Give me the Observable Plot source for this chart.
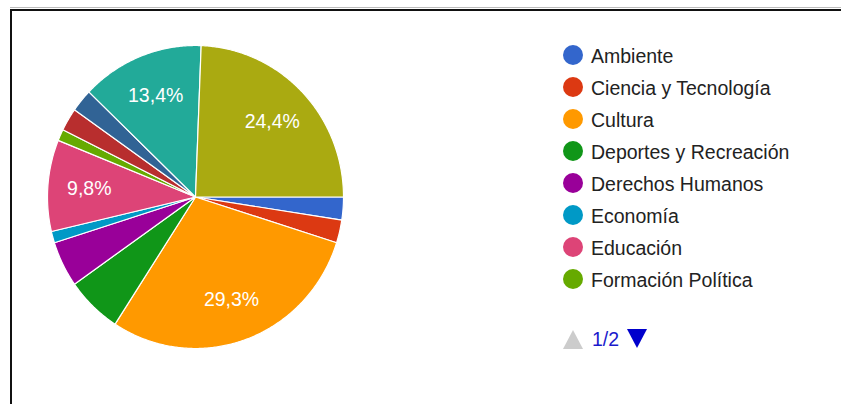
<!DOCTYPE html>
<html>
<head>
<meta charset="utf-8">
<script src="https://cdn.jsdelivr.net/npm/d3@7"></script>
<script src="https://cdn.jsdelivr.net/npm/@observablehq/plot@0.6"></script>
<style>
  html, body { margin: 0; padding: 0; background: #fff; }
  body { width: 841px; height: 404px; position: relative; overflow: hidden;
         font-family: "Liberation Sans", Arial, sans-serif; }
  #frameGray { position: absolute; left: 10px; top: 7px; width: 831px; height: 1px; background: #bbb; }
  #frame { position: absolute; left: 10px; top: 9px; width: 831px; height: 400px;
           border-top: 2px solid #111; border-left: 2px solid #111; box-sizing: border-box; }
  #chart { position: absolute; left: 0; top: 0; }
  #legend { position: absolute; left: 562px; top: 39px; }
  .row { position: relative; height: 32px; }
  .sw { position: absolute; left: 1px; top: 6px; width: 20px; height: 20px; border-radius: 50%; }
  .lab { position: absolute; left: 29px; top: 4.5px; font-size: 19.5px; color: #222; white-space: nowrap; line-height: 24px; }
  #pager { position: absolute; left: 562px; top: 328px; height: 22px; }
  .tri-up { position: absolute; left: 1px; top: 2px; width: 0; height: 0;
            border-left: 10px solid transparent; border-right: 10px solid transparent; border-bottom: 19px solid #ccc; }
  .tri-down { position: absolute; left: 65px; top: 1px; width: 0; height: 0;
            border-left: 10px solid transparent; border-right: 10px solid transparent; border-top: 19px solid #0000cc; }
  .page { position: absolute; left: 30px; top: -1px; font-size: 19.5px; color: #1a1acc; line-height: 24px; }
</style>
</head>
<body>
<div id="frameGray"></div>
<div id="frame"></div>
<div id="chart"></div>
<div id="legend"></div>
<div id="pager"><div class="tri-up"></div><div class="page">1/2</div><div class="tri-down"></div></div>
<script>
// ---- data ----
const categories = [
  "Ambiente", "Ciencia y Tecnología", "Cultura", "Deportes y Recreación",
  "Derechos Humanos", "Economía", "Educación", "Formación Política",
  "Género", "Juventud", "Salud", "Social y Comunitario"
];
const counts = [2, 2, 24, 5, 4, 1, 8, 1, 2, 2, 11, 20];
const colors = [
  "#3366cc", "#dc3912", "#ff9900", "#109618", "#990099", "#0099c6",
  "#dd4477", "#66aa00", "#b82e2e", "#316395", "#22aa99", "#aaaa11"
];
const legendPage1 = categories.slice(0, 8);
const startAngleDeg = 90; // first slice starts at 3 o'clock, clockwise

// ---- derived geometry (from data) ----
const total = d3.sum(counts);
const slices = [];
let acc = startAngleDeg * Math.PI / 180;
categories.forEach((name, i) => {
  const a0 = acc, a1 = acc + counts[i] / total * 2 * Math.PI;
  acc = a1;
  slices.push({name, value: counts[i], a0, a1});
});
const pts = [];
for (const s of slices) {
  pts.push({name: s.name, x: 0, y: 0});
  const n = Math.max(2, Math.ceil((s.a1 - s.a0) / (Math.PI / 360)));
  for (let k = 0; k <= n; k++) {
    const a = s.a0 + (s.a1 - s.a0) * k / n;
    pts.push({name: s.name, x: Math.sin(a), y: Math.cos(a)});
  }
}
const labels = slices.filter(s => s.value / total > 0.09).map(s => {
  const m = (s.a0 + s.a1) / 2;
  return {name: s.name, x: 0.72 * Math.sin(m), y: 0.72 * Math.cos(m),
          text: (s.value / total * 100).toFixed(1).replace(".", ",") + "%"};
});

const plot = Plot.plot({
  width: 841, height: 404,
  marginLeft: 47, marginRight: 498, marginTop: 45, marginBottom: 56,
  x: {domain: [-1, 1], axis: null},
  y: {domain: [-1, 1], axis: null},
  color: {domain: categories, range: colors},
  style: {fontFamily: "'Liberation Sans', Arial, sans-serif", background: "transparent"},
  marks: [
    Plot.line(pts, {x: "x", y: "y", z: "name", fill: "name", stroke: "white",
                    strokeWidth: 1.2, curve: "linear-closed", strokeLinejoin: "round"}),
    Plot.text(labels, {x: "x", y: "y", text: "text", fill: "white", fontSize: 19.5})
  ]
});
document.getElementById("chart").appendChild(plot);

const leg = document.getElementById("legend");
legendPage1.forEach((name) => {
  const i = categories.indexOf(name);
  const row = document.createElement("div");
  row.className = "row";
  row.innerHTML = `<div class="sw" style="background:${colors[i]}"></div><div class="lab">${name}</div>`;
  leg.appendChild(row);
});
</script>
</body>
</html>
